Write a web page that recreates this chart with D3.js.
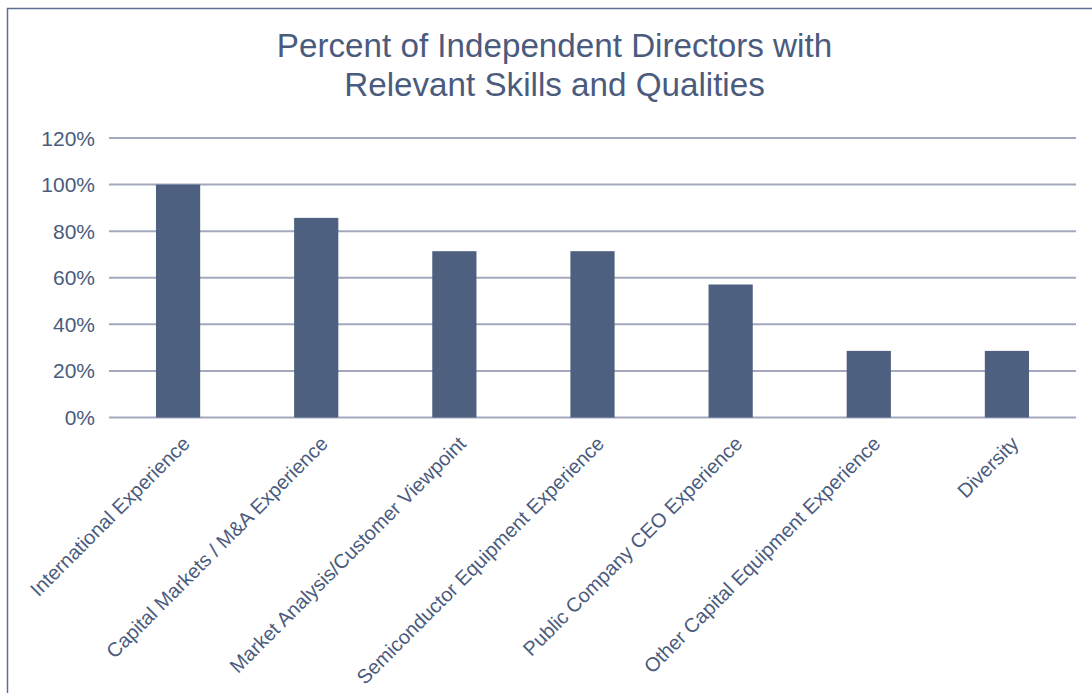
<!DOCTYPE html>
<html><head><meta charset="utf-8">
<script src="https://cdn.jsdelivr.net/npm/d3@7"></script>
<style>html,body{margin:0;padding:0;background:#fff;}svg{display:block;font-family:"Liberation Sans",Arial,Helvetica,sans-serif;}</style>
</head><body>
<script>
const categories = ["International Experience","Capital Markets / M&A Experience","Market Analysis/Customer Viewpoint","Semiconductor Equipment Experience","Public Company CEO Experience","Other Capital Equipment Experience","Diversity"];
const values = [1.0, 0.857, 0.714, 0.714, 0.571, 0.286, 0.286];
const yTicks = [0, 0.2, 0.4, 0.6, 0.8, 1.0, 1.2];
const titleLines = ["Percent of Independent Directors with","Relevant Skills and Qualities"];

const W = 1092, H = 693;
const textColor = "#4a5b7d", barColor = "#4e6080", gridColor = "#a3a8bf", borderColor = "#5f6f8f";
const svg = d3.select("body").append("svg").attr("width", W).attr("height", H);

svg.append("rect").attr("x", 7.5).attr("y", 8.5).attr("width", W + 20).attr("height", H + 20)
  .attr("fill", "none").attr("stroke", borderColor).attr("stroke-width", 1.5);

const x = d3.scaleBand().domain(categories).range([109, 1076]).paddingInner(0.68).paddingOuter(0.34);
const y = d3.scaleLinear().domain([0, 1.2]).range([417.5, 138]);

svg.append("g").selectAll("line").data(yTicks).join("line")
  .attr("x1", 109).attr("x2", 1076).attr("y1", d => y(d)).attr("y2", d => y(d))
  .attr("stroke", gridColor).attr("stroke-width", 2);

svg.append("g").selectAll("text").data(yTicks).join("text")
  .attr("x", 95).attr("y", d => y(d)).attr("dy", "0.36em").attr("text-anchor", "end")
  .attr("fill", textColor).attr("font-size", 21).text(d => d3.format(".0%")(d));

svg.append("g").selectAll("rect").data(values).join("rect")
  .attr("x", (d, i) => x(categories[i])).attr("width", x.bandwidth())
  .attr("y", d => y(d)).attr("height", d => y(0) - y(d)).attr("fill", barColor);

svg.append("g").selectAll("text").data(categories).join("text")
  .attr("transform", d => `translate(${x(d) + x.bandwidth() / 2 + 8},${440}) rotate(-45)`)
  .attr("text-anchor", "end").attr("dy", "0.35em")
  .attr("fill", textColor).attr("font-size", 20).text(d => d);

svg.append("text").attr("x", 554.5).attr("y", 57).attr("text-anchor", "middle")
  .attr("fill", textColor).attr("font-size", 33.2)
  .selectAll("tspan").data(titleLines).join("tspan")
  .attr("x", 554.5).attr("dy", (d, i) => i === 0 ? 0 : 39).text(d => d);
</script>
</body></html>
